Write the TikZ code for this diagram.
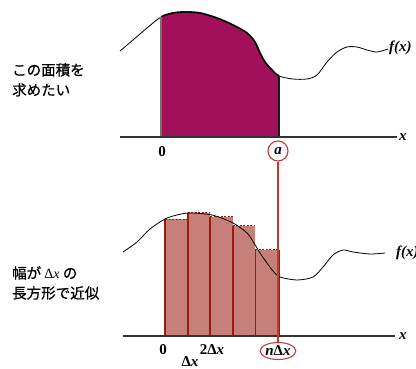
\documentclass[tikz,border=0pt]{standalone}
\usepackage{fontspec}
\setmainfont{Liberation Serif}
\newfontfamily\jp[FakeBold=0.6]{Noto Sans CJK JP}
\usetikzlibrary{shapes.geometric}
\definecolor{topfill}{HTML}{A2105B}
\definecolor{botfill}{HTML}{C68079}
\definecolor{vlinec}{HTML}{9E1A0C}
\definecolor{redc}{HTML}{C13A32}
\begin{document}
\begin{tikzpicture}[x=1pt,y=-1pt,
  every node/.style={inner sep=0pt},
  axisline/.style={draw=black!80, line width=1.3pt},
  curveline/.style={draw=black, line width=0.8pt},
  thickcurve/.style={draw=black!90, line width=1.8pt},
  vline/.style={draw=vlinec, line width=1.8pt},
  dashtop/.style={draw=vlinec, line width=1pt, dash pattern=on 2pt off 1.5pt},
  redline/.style={draw=redc, line width=1.3pt},
  lbl/.style={font=\fontsize{15}{17}\selectfont\bfseries},
  jplbl/.style={font=\jp\fontsize{14.5}{20}\selectfont, align=left, anchor=north west}]
\useasboundingbox (0,0) rectangle (416,369);

% ---------- top panel ----------
\begin{scope}
\clip (161,0) rectangle (279,137);
\fill[topfill] plot[smooth] coordinates {(120,51) (133,40) (147,28) (161,17) (173,13) (185,12) (200,13) (217,18) (233,25) (247,33) (255,42) (260,53) (265,62) (272,70) (279,76) (293,79) (307,79) (317,75) (327,62) (337,52) (347,47) (357,47) (367,50) (377,52) (388,49)} -- (388,137) -- (120,137) -- cycle;
\draw[thickcurve] plot[smooth] coordinates {(120,51) (133,40) (147,28) (161,17) (173,13) (185,12) (200,13) (217,18) (233,25) (247,33) (255,42) (260,53) (265,62) (272,70) (279,76) (293,79) (307,79) (317,75) (327,62) (337,52) (347,47) (357,47) (367,50) (377,52) (388,49)};
\end{scope}
\draw[curveline] plot[smooth] coordinates {(120,51) (133,40) (147,28) (161,17) (173,13) (185,12) (200,13) (217,18) (233,25) (247,33) (255,42) (260,53) (265,62) (272,70) (279,76) (293,79) (307,79) (317,75) (327,62) (337,52) (347,47) (357,47) (367,50) (377,52) (388,49)};
\draw[draw=black!55, line width=1.3pt] (161,137) -- (161,17);
\draw[draw=black!90, line width=1.4pt] (279,137) -- (279,76);
\draw[axisline] (120,137) -- (397,137);
\node[lbl, anchor=west] (xt) at (399,137) {\itshape x};
\node[lbl, anchor=west] (ft) at (389,48) {\itshape f(x)};
\node[lbl] (zt) at (162,152) {0};
\node[circle, draw=redc, line width=1.1pt, minimum size=20pt, lbl] (a) at (278,151) {\itshape a};

\node[jplbl] (t1) at (12,63) {この面積を\\求めたい};

% ---------- bottom panel ----------
\fill[botfill] (165,336) rectangle (187.6,219.3);
\fill[botfill] (187.6,336) rectangle (210.2,212.7);
\fill[botfill] (210.2,336) rectangle (232.8,216.7);
\fill[botfill] (232.8,336) rectangle (255.4,226);
\fill[botfill] (255.4,336) rectangle (278,250);
\draw[dashtop] (165,219.3) -- (187.6,219.3);
\draw[dashtop] (187.6,212.7) -- (210.2,212.7);
\draw[dashtop] (210.2,216.7) -- (232.8,216.7);
\draw[dashtop] (232.8,226) -- (255.4,226);
\draw[dashtop] (255.4,250) -- (278,250);
\draw[vline] (165,336) -- (165,219.3);
\draw[vline] (187.6,336) -- (187.6,212.7);
\draw[vline] (210.2,336) -- (210.2,216.7);
\draw[vline] (232.8,336) -- (232.8,226);
\draw[vline] (255.4,336) -- (255.4,250);
\draw[vline] (278.6,336) -- (278.6,250);
\draw[curveline] plot[smooth] coordinates {(123,252) (137,242) (150,229) (165,219) (177,215) (190,213) (212,215) (233,223) (247,233) (254,243) (260,253) (267,263) (273,271) (280,277) (297,280) (313,277) (323,267) (333,255) (343,250) (353,252) (370,254) (385,253)};
\draw[axisline] (123,336) -- (395,336);
\node[lbl, anchor=west] (xb) at (399,336) {\itshape x};
\node[lbl, anchor=west] (fb) at (396,253) {\itshape f(x)};
\node[lbl] (zb) at (163,350) {0};
\node[lbl] (dx) at (190,362) {Δ\itshape x};
\node[lbl] (tdx) at (212,350) {2Δ\itshape x};
\node[ellipse, draw=redc, line width=1.1pt, minimum width=31pt, minimum height=17pt, inner sep=0pt, lbl] (ndx) at (278,351) {\itshape n\upshape Δ\itshape x};

\node[jplbl] (t2) at (12,266) {幅が {\rmfamily\fontsize{14}{16}\selectfont Δ\itshape x} の\\長方形で近似};

% ---------- connector ----------
\draw[redline] (a) -- (ndx);
\end{tikzpicture}
\end{document}
